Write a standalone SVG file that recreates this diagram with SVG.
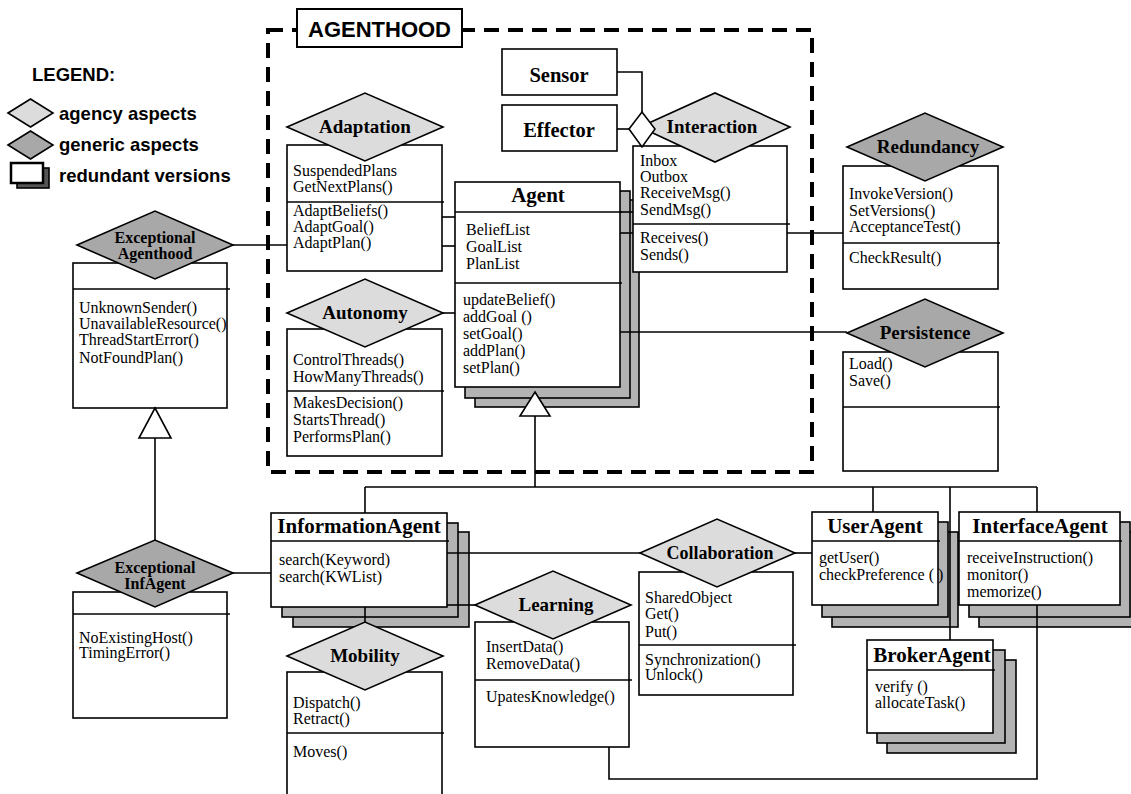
<svg xmlns="http://www.w3.org/2000/svg" width="1131" height="794" viewBox="0 0 1131 794">
<style>
.box{fill:#fff;stroke:#000;stroke-width:1.6}
.sh{fill:#b3b3b3;stroke:#000;stroke-width:1.6}
.ag{fill:#dcdcdc;stroke:#000;stroke-width:1.6}
.ge{fill:#a8a8a8;stroke:#000;stroke-width:1.6}
.ln{fill:none;stroke:#000;stroke-width:1.6}
.frame{fill:none;stroke:#000;stroke-width:4;stroke-dasharray:15 9}
.t{font-family:"Liberation Serif","Times New Roman",serif;font-size:16px;fill:#000}
.dl{font-family:"Liberation Serif","Times New Roman",serif;font-size:19px;font-weight:bold;text-anchor:middle}
.tt{font-family:"Liberation Serif","Times New Roman",serif;font-size:21px;font-weight:bold;text-anchor:middle}
.te{font-family:"Liberation Serif","Times New Roman",serif;font-size:16px;font-weight:bold;text-anchor:middle}
.lg{font-family:"Liberation Sans",Arial,sans-serif;font-size:18.5px;font-weight:bold}
</style>
<rect width="1131" height="794" fill="#fff"/>

<g id="legend">
<text class="lg" x="32" y="81">LEGEND:</text>
<polygon class="ag" points="8,113 30.5,99 53,113 30.5,127"/>
<text class="lg" x="59" y="120">agency aspects</text>
<polygon class="ge" points="8,145 30.5,131 53,145 30.5,159"/>
<text class="lg" x="59" y="151">generic aspects</text>
<rect x="17" y="168" width="32" height="20" fill="#555" stroke="#000" stroke-width="1.6"/>
<rect x="11" y="163" width="32" height="20" fill="#fff" stroke="#000" stroke-width="2.5"/>
<text class="lg" x="59" y="182">redundant versions</text>
</g>

<g id="agenthood-frame">
<rect class="frame" x="268" y="30" width="544" height="442"/>
<rect x="297" y="9" width="165" height="38" fill="#fff" stroke="#000" stroke-width="2"/>
<text x="379.5" y="37" font-family="Liberation Sans, Arial, sans-serif" font-size="22" font-weight="bold" text-anchor="middle">AGENTHOOD</text>
</g>

<g id="adaptation">
<rect class="box" x="287" y="145" width="155" height="126"/>
<line class="ln" x1="287" y1="202" x2="444" y2="202"/>
<polygon class="ag" points="287,127 365,93 443,127 365,161"/>
<text class="dl" x="365" y="133">Adaptation</text>
<text class="t" x="293" y="176">SuspendedPlans</text>
<text class="t" x="293" y="192">GetNextPlans()</text>
<text class="t" x="293" y="216">AdaptBeliefs()</text>
<text class="t" x="293" y="232">AdaptGoal()</text>
<text class="t" x="293" y="248">AdaptPlan()</text>
</g>

<g id="autonomy">
<rect class="box" x="287" y="329" width="155" height="127"/>
<line class="ln" x1="287" y1="391" x2="444" y2="391"/>
<polygon class="ag" points="287,313 365,279 443,313 365,347"/>
<text class="dl" x="365" y="319">Autonomy</text>
<text class="t" x="293" y="365">ControlThreads()</text>
<text class="t" x="293" y="382">HowManyThreads()</text>
<text class="t" x="293" y="408">MakesDecision()</text>
<text class="t" x="293" y="425">StartsThread()</text>
<text class="t" x="293" y="442">PerformsPlan()</text>
</g>

<g id="agent">
<rect class="sh" x="475" y="200" width="164" height="207"/>
<rect class="sh" x="465" y="191" width="165" height="207"/>
<rect class="box" x="455" y="182" width="165" height="205"/>
<line class="ln" x1="455" y1="212" x2="622" y2="212"/>
<line class="ln" x1="455" y1="283" x2="622" y2="283"/>
<text class="tt" x="538" y="202">Agent</text>
<text class="t" x="466" y="235">BeliefList</text>
<text class="t" x="466" y="252">GoalList</text>
<text class="t" x="466" y="269">PlanList</text>
<text class="t" x="463" y="305">updateBelief()</text>
<text class="t" x="463" y="322">addGoal ()</text>
<text class="t" x="463" y="339">setGoal()</text>
<text class="t" x="463" y="356">addPlan()</text>
<text class="t" x="463" y="373">setPlan()</text>
</g>

<g id="sensor">
<rect class="box" x="502" y="49" width="115" height="46"/>
<text class="tt" x="559" y="82" style="font-size:20.5px">Sensor</text>
</g>
<g id="effector">
<rect class="box" x="502" y="105" width="115" height="46"/>
<text class="tt" x="559" y="137" style="font-size:20.5px">Effector</text>
</g>

<g id="interaction">
<rect class="box" x="633" y="146" width="154" height="126"/>
<line class="ln" x1="633" y1="224" x2="790" y2="224"/>
<polygon class="ag" points="640,127 715,93 790,127 715,162"/>
<text class="dl" x="712" y="133">Interaction</text>
<text class="t" x="640" y="166">Inbox</text>
<text class="t" x="640" y="182">Outbox</text>
<text class="t" x="640" y="198">ReceiveMsg()</text>
<text class="t" x="640" y="215">SendMsg()</text>
<text class="t" x="640" y="243">Receives()</text>
<text class="t" x="640" y="260">Sends()</text>
</g>

<g id="redundancy">
<rect class="box" x="843" y="166" width="155" height="123"/>
<line class="ln" x1="843" y1="243" x2="1000" y2="243"/>
<polygon class="ge" points="847,147 925,113 1003,147 925,181"/>
<text class="dl" x="928" y="153">Redundancy</text>
<text class="t" x="849" y="199">InvokeVersion()</text>
<text class="t" x="849" y="216">SetVersions()</text>
<text class="t" x="849" y="232">AcceptanceTest()</text>
<text class="t" x="849" y="263">CheckResult()</text>
</g>

<g id="persistence">
<rect class="box" x="843" y="352" width="155" height="119"/>
<line class="ln" x1="843" y1="407" x2="1000" y2="407"/>
<polygon class="ge" points="847,333 925,299 1003,333 925,367"/>
<text class="dl" x="925" y="339">Persistence</text>
<text class="t" x="849" y="369">Load()</text>
<text class="t" x="849" y="386">Save()</text>
</g>

<g id="exceptional-agenthood">
<rect class="box" x="73" y="263" width="154" height="145"/>
<line class="ln" x1="73" y1="289" x2="230" y2="289"/>
<polygon class="ge" points="77,245 155,211 233,245 155,279"/>
<text class="te" x="155" y="243">Exceptional</text>
<text class="te" x="155" y="259">Agenthood</text>
<text class="t" x="79" y="313">UnknownSender()</text>
<text class="t" x="79" y="329">UnavailableResource()</text>
<text class="t" x="79" y="345">ThreadStartError()</text>
<text class="t" x="79" y="363">NotFoundPlan()</text>
</g>

<g id="exceptional-infagent">
<rect class="box" x="73" y="592" width="154" height="126"/>
<line class="ln" x1="73" y1="614" x2="230" y2="614"/>
<polygon class="ge" points="77,573 155,540 233,573 155,607"/>
<text class="te" x="155" y="573">Exceptional</text>
<text class="te" x="155" y="589">InfAgent</text>
<text class="t" x="79" y="643">NoExistingHost()</text>
<text class="t" x="79" y="658">TimingError()</text>
</g>

<g id="information-agent">
<rect class="sh" x="293" y="532" width="176" height="95"/>
<rect class="sh" x="282" y="523" width="176" height="94"/>
<rect class="box" x="271" y="513" width="176" height="94"/>
<line class="ln" x1="271" y1="541" x2="449" y2="541"/>
<text class="tt" x="359" y="533">InformationAgent</text>
<text class="t" x="279" y="565">search(Keyword)</text>
<text class="t" x="279" y="582">search(KWList)</text>
</g>

<g id="mobility">
<rect class="box" x="287" y="672" width="155" height="140"/>
<line class="ln" x1="287" y1="733" x2="444" y2="733"/>
<polygon class="ag" points="287,656 365,622 443,656 365,690"/>
<text class="dl" x="365" y="662">Mobility</text>
<text class="t" x="293" y="708">Dispatch()</text>
<text class="t" x="293" y="724">Retract()</text>
<text class="t" x="293" y="757">Moves()</text>
</g>

<g id="learning">
<rect class="box" x="475" y="622" width="154" height="125"/>
<line class="ln" x1="475" y1="680" x2="632" y2="680"/>
<polygon class="ag" points="475,605 553,571 631,605 553,639"/>
<text class="dl" x="556" y="611">Learning</text>
<text class="t" x="486" y="652">InsertData()</text>
<text class="t" x="486" y="669">RemoveData()</text>
<text class="t" x="486" y="702">UpatesKnowledge()</text>
</g>

<g id="collaboration">
<rect class="box" x="639" y="572" width="154" height="123"/>
<line class="ln" x1="639" y1="645" x2="796" y2="645"/>
<polygon class="ag" points="640,553 717,519 795,553 717,587"/>
<text class="dl" x="720" y="559" style="font-size:18px">Collaboration</text>
<text class="t" x="645" y="603">SharedObject</text>
<text class="t" x="645" y="619">Get()</text>
<text class="t" x="645" y="637">Put()</text>
<text class="t" x="645" y="665">Synchronization()</text>
<text class="t" x="645" y="680">Unlock()</text>
</g>

<g id="user-agent">
<rect class="sh" x="832" y="532" width="126" height="95"/>
<rect class="sh" x="822" y="522" width="126" height="95"/>
<rect class="box" x="812" y="512" width="126" height="93"/>
<line class="ln" x1="812" y1="541" x2="940" y2="541"/>
<text class="tt" x="875" y="533">UserAgent</text>
<text class="t" x="819" y="563">getUser()</text>
<text class="t" x="819" y="580">checkPreference ( )</text>
</g>

<g id="interface-agent">
<rect class="sh" x="979" y="532" width="161" height="95"/>
<rect class="sh" x="969" y="522" width="161" height="95"/>
<rect class="box" x="959" y="512" width="161" height="93"/>
<line class="ln" x1="959" y1="541" x2="1122" y2="541"/>
<text class="tt" x="1040" y="533">InterfaceAgent</text>
<text class="t" x="967" y="563">receiveInstruction()</text>
<text class="t" x="967" y="580">monitor()</text>
<text class="t" x="967" y="597">memorize()</text>
</g>

<g id="broker-agent">
<rect class="sh" x="887" y="660" width="129" height="93"/>
<rect class="sh" x="877" y="650" width="128" height="93"/>
<rect class="box" x="867" y="640" width="126" height="93"/>
<line class="ln" x1="867" y1="670" x2="995" y2="670"/>
<text class="tt" x="932" y="662">BrokerAgent</text>
<text class="t" x="875" y="692">verify ()</text>
<text class="t" x="875" y="708">allocateTask()</text>
</g>

<g id="connectors">
<line class="ln" x1="233" y1="245" x2="287" y2="245"/>
<line class="ln" x1="442" y1="217" x2="455" y2="217"/>
<line class="ln" x1="442" y1="246" x2="455" y2="246"/>
<line class="ln" x1="443" y1="313" x2="455" y2="313"/>
<line class="ln" x1="620" y1="212" x2="633" y2="212"/>
<line class="ln" x1="620" y1="233" x2="633" y2="233"/>
<line class="ln" x1="787" y1="233" x2="843" y2="233"/>
<line class="ln" x1="620" y1="332" x2="847" y2="332"/>
<polyline class="ln" points="617,72 642,72 642,112"/>
<line class="ln" x1="617" y1="129" x2="629" y2="129"/>
<polygon points="629,129 642,112 655,129 642,147" fill="#fff" stroke="#000" stroke-width="1.6"/>
<line class="ln" x1="535" y1="416" x2="535" y2="487"/>
<polygon points="535,392 550,416 520,416" fill="#fff" stroke="#000" stroke-width="1.6"/>
<line class="ln" x1="365" y1="487" x2="1037" y2="487"/>
<line class="ln" x1="365" y1="487" x2="365" y2="513"/>
<line class="ln" x1="873" y1="487" x2="873" y2="512"/>
<line class="ln" x1="950" y1="487" x2="950" y2="640"/>
<line class="ln" x1="1037" y1="487" x2="1037" y2="512"/>
<line class="ln" x1="155" y1="438" x2="155" y2="540"/>
<polygon points="155,408 171,438 139,438" fill="#fff" stroke="#000" stroke-width="1.6"/>
<line class="ln" x1="233" y1="573" x2="271" y2="573"/>
<line class="ln" x1="447" y1="553" x2="640" y2="553"/>
<line class="ln" x1="447" y1="605" x2="475" y2="605"/>
<line class="ln" x1="365" y1="607" x2="365" y2="622"/>
<line class="ln" x1="795" y1="553" x2="812" y2="553"/>
<polyline class="ln" points="609,747 609,779 1037,779 1037,605"/>
</g>
</svg>
